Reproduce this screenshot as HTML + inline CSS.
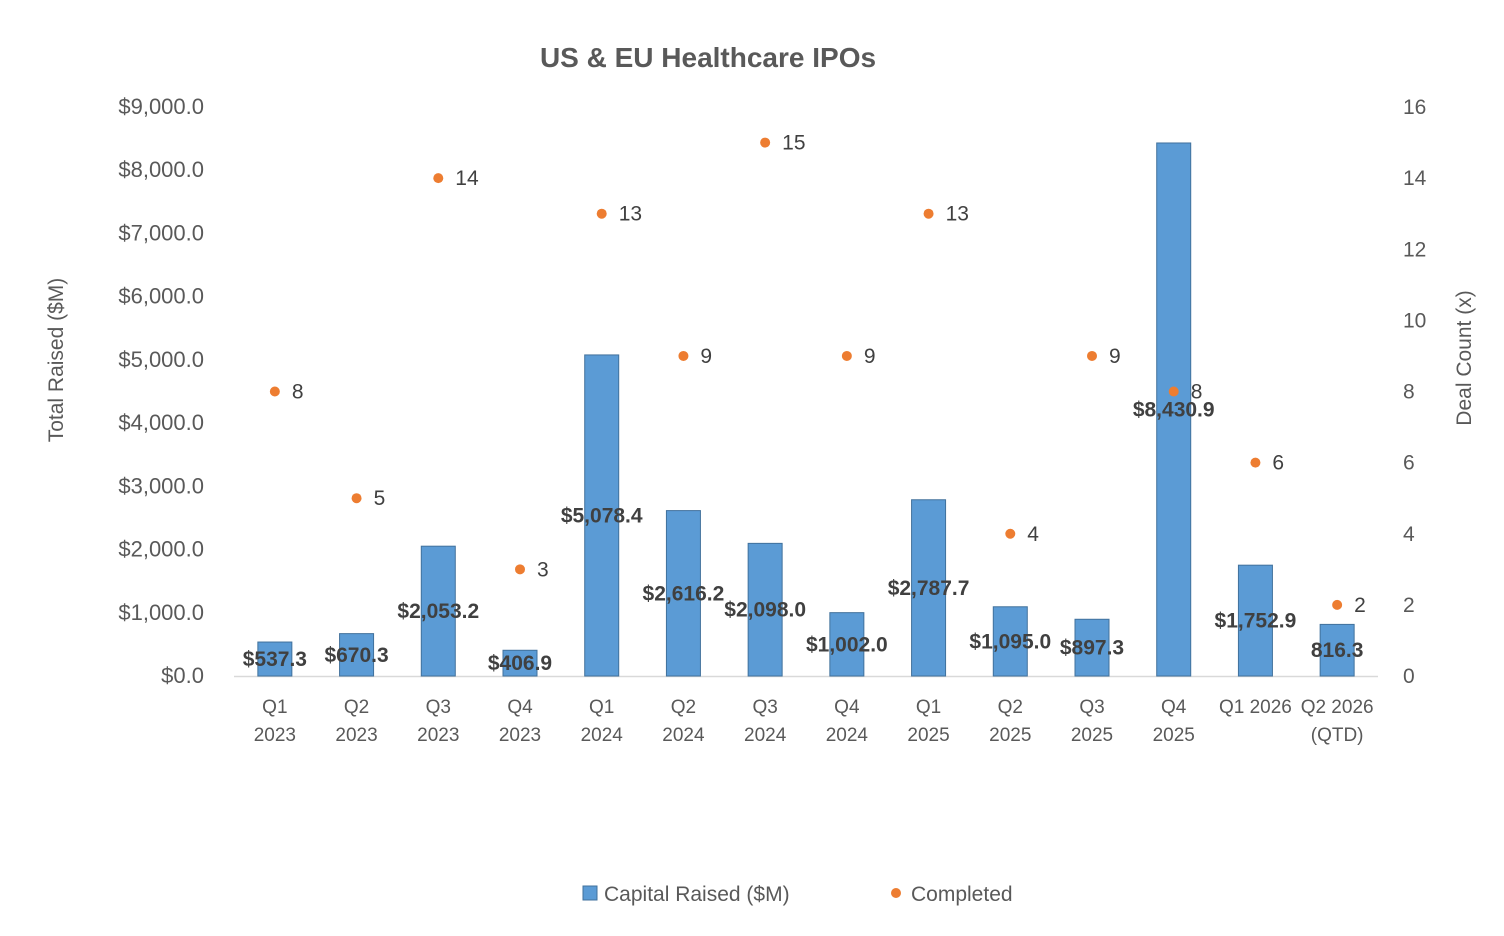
<!DOCTYPE html>
<html><head><meta charset="utf-8">
<style>
html,body{margin:0;padding:0;background:#fff;}
svg{display:block;font-family:"Liberation Sans",sans-serif;}
</style></head>
<body>
<svg id="chart" width="1504" height="936" viewBox="0 0 1504 936" xmlns="http://www.w3.org/2000/svg">
<text x="708" y="67" text-anchor="middle" font-size="28" font-weight="bold" fill="#595959">US &amp; EU Healthcare IPOs</text>
<text transform="translate(63,360) rotate(-90)" text-anchor="middle" font-size="21" fill="#595959">Total Raised ($M)</text>
<text transform="translate(1471,358) rotate(-90)" text-anchor="middle" font-size="21" fill="#595959">Deal Count (x)</text>
<g id="leftTicks"></g><g id="rightTicks"></g><g id="xLabels"></g>
<line x1="234" y1="676.5" x2="1378" y2="676.5" stroke="#D9D9D9" stroke-width="1.5"/>
<g id="bars"></g><g id="barLabels"></g><g id="dots"></g>
<g>
<rect x="583" y="886" width="14" height="14" fill="#5B9BD5" stroke="#41719C"/>
<text x="604" y="901" font-size="21" fill="#595959">Capital Raised ($M)</text>
<circle cx="896" cy="893" r="5" fill="#ED7D31"/>
<text x="911" y="901" font-size="21" fill="#595959">Completed</text>
</g>
</svg>
<script>
const categories = [["Q1","2023"],["Q2","2023"],["Q3","2023"],["Q4","2023"],["Q1","2024"],["Q2","2024"],["Q3","2024"],["Q4","2024"],["Q1","2025"],["Q2","2025"],["Q3","2025"],["Q4","2025"],["Q1 2026",""],["Q2 2026","(QTD)"]];
const capital = [537.3,670.3,2053.2,406.9,5078.4,2616.2,2098.0,1002.0,2787.7,1095.0,897.3,8430.9,1752.9,816.3];
const capitalLabels = ["$537.3","$670.3","$2,053.2","$406.9","$5,078.4","$2,616.2","$2,098.0","$1,002.0","$2,787.7","$1,095.0","$897.3","$8,430.9","$1,752.9","816.3"];
const deals = [8,5,14,3,13,9,15,9,13,4,9,8,6,2];
const leftTicks = [0,1000,2000,3000,4000,5000,6000,7000,8000,9000];
const rightTicks = [0,2,4,6,8,10,12,14,16];

const NS="http://www.w3.org/2000/svg";
const plotX0=234,plotX1=1378,plotBase=676,plotTop=107;
const xc=i=>plotX0+(plotX1-plotX0)/categories.length*(i+0.5);
const yL=v=>plotBase-(plotBase-plotTop)*v/9000;
const yR=v=>plotBase-(plotBase-plotTop)*v/16;
function mk(tag,attrs,parent,txt){const e=document.createElementNS(NS,tag);for(const k in attrs)e.setAttribute(k,attrs[k]);if(txt!==undefined)e.textContent=txt;document.getElementById(parent).appendChild(e);return e;}

leftTicks.forEach(v=>{
  const t=mk("text",{x:204,y:yL(v)+7,"text-anchor":"end","font-size":22,fill:"#595959"},"leftTicks","$"+v.toLocaleString("en-US",{minimumFractionDigits:1,maximumFractionDigits:1}));
  
  
});
rightTicks.forEach(v=>{
  const t=mk("text",{x:1403,y:yR(v)+7,"font-size":21,fill:"#595959"},"rightTicks",String(v));
  
  
});
categories.forEach((c,i)=>{
  const t=mk("text",{x:xc(i),y:713,"text-anchor":"middle","font-size":19,fill:"#595959"},"xLabels",c[0]);
  
  
  if(c[1]){const t2=mk("text",{x:xc(i),y:741,"text-anchor":"middle","font-size":19,fill:"#595959"},"xLabels",c[1]);
  
  }
});
capital.forEach((v,i)=>{
  const r=mk("rect",{x:xc(i)-17,y:yL(v),width:34,height:plotBase-yL(v),fill:"#5B9BD5",stroke:"#41719C","stroke-width":1},"bars");
  
  
  const t=mk("text",{x:xc(i),y:(yL(v)+plotBase)/2+7,"text-anchor":"middle","font-size":21,"font-weight":"bold",fill:"#404040"},"barLabels",capitalLabels[i]);
  
  
});
deals.forEach((v,i)=>{
  const c=mk("circle",{cx:xc(i),cy:yR(v),r:5,fill:"#ED7D31"},"dots");
  
  
  const t=mk("text",{x:xc(i)+17,y:yR(v)+7,"font-size":21,fill:"#404040"},"dots",String(v));
  
  
});
</script>
</body></html>
